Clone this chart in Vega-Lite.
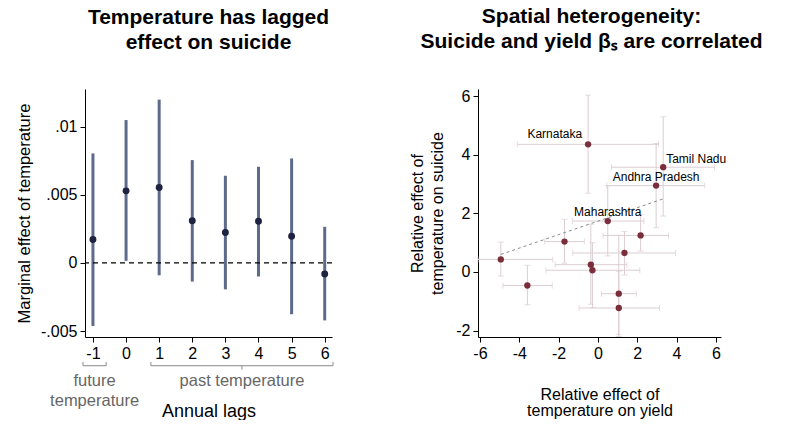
{
  "$schema": "https://vega.github.io/schema/vega-lite/v6.json",
  "description": "Lagged temperature effect on suicide and spatial heterogeneity",
  "background": "white",
  "padding": {"left": 16, "top": 6, "right": 2, "bottom": 0},
  "config": {
    "font": "Liberation Sans",
    "view": {"stroke": null},
    "axis": {
      "grid": false,
      "domainColor": "black",
      "tickColor": "black",
      "labelColor": "black",
      "titleColor": "black",
      "labelFontSize": 16,
      "titleFontSize": 16,
      "titleFontWeight": "normal",
      "tickSize": 5,
      "labelPadding": 3,
      "labelOverlap": false
    },
    "axisX": {"labelOverlap": false},
    "title": {"fontSize": 21, "fontWeight": "bold", "lineHeight": 25, "anchor": "middle", "color": "black"}
  },
  "datasets": {
    "lags": [
      {"lag": -1, "est": 0.00172, "lo": -0.00463, "hi": 0.00804},
      {"lag": 0, "est": 0.00529, "lo": 0.00015, "hi": 0.01049},
      {"lag": 1, "est": 0.00554, "lo": -0.00091, "hi": 0.01199},
      {"lag": 2, "est": 0.00309, "lo": -0.00137, "hi": 0.00755},
      {"lag": 3, "est": 0.00223, "lo": -0.00194, "hi": 0.0064},
      {"lag": 4, "est": 0.00306, "lo": -0.001, "hi": 0.00706},
      {"lag": 5, "est": 0.00196, "lo": -0.00377, "hi": 0.00767},
      {"lag": 6, "est": -0.00081, "lo": -0.00422, "hi": 0.00265}
    ],
    "groups": [
      {"group": "future", "start": -1.3, "end": -0.6, "mid": -0.95, "line1": "future", "line2": "temperature"},
      {"group": "past", "start": 0.75, "end": 6.25, "mid": 3.5, "line1": "past temperature", "line2": ""}
    ],
    "states": [
      {"state": "Karnataka", "yield": -0.5, "ylo": -4.1, "yhi": 3.08, "suicide": 4.36, "slo": 2.69, "shi": 6.04},
      {"state": "Tamil Nadu", "yield": 3.32, "ylo": 0.69, "yhi": 5.93, "suicide": 3.58, "slo": 1.91, "shi": 5.3},
      {"state": "Andhra Pradesh", "yield": 2.96, "ylo": 0.45, "yhi": 5.43, "suicide": 2.95, "slo": 1.51, "shi": 4.39},
      {"state": "Maharashtra", "yield": 0.5, "ylo": -1.3, "yhi": 2.34, "suicide": 1.74, "slo": 0.55, "shi": 2.95},
      {"state": "", "yield": -1.7, "ylo": -2.71, "yhi": -0.69, "suicide": 1.04, "slo": 0.3, "shi": 1.8},
      {"state": "", "yield": -4.94, "ylo": -6.1, "yhi": -2.3, "suicide": 0.43, "slo": -0.14, "shi": 1.02},
      {"state": "", "yield": -3.59, "ylo": -4.83, "yhi": -2.32, "suicide": -0.46, "slo": -1.12, "shi": 0.23},
      {"state": "", "yield": -0.36, "ylo": -2.18, "yhi": 1.47, "suicide": 0.25, "slo": -1.1, "shi": 1.63},
      {"state": "", "yield": -0.28, "ylo": -2.65, "yhi": 2.13, "suicide": 0.06, "slo": -1.22, "shi": 1.0},
      {"state": "", "yield": 1.35, "ylo": -1.28, "yhi": 3.95, "suicide": 0.65, "slo": -0.1, "shi": 1.38},
      {"state": "", "yield": 2.17, "ylo": 0.26, "yhi": 3.59, "suicide": 1.25, "slo": 0.72, "shi": 1.97},
      {"state": "", "yield": 1.06, "ylo": 0.18, "yhi": 1.96, "suicide": -0.74, "slo": -2.13, "shi": 1.25},
      {"state": "", "yield": 1.06, "ylo": -0.96, "yhi": 3.13, "suicide": -1.23, "slo": -2.2, "shi": 0.03}
    ],
    "fit": [
      {"yield": -4.94, "suicide": 0.6},
      {"yield": 3.32, "suicide": 2.5}
    ]
  },
  "hconcat": [
    {
      "spacing": 0,
      "resolve": {"scale": {"x": "independent"}, "axis": {"x": "independent"}},
      "vconcat": [
        {
          "title": {"text": ["Temperature has lagged", "effect on suicide"], "offset": 36},
          "width": 247,
          "height": 248,
          "layer": [
            {
              "data": {"name": "lags"},
              "mark": {"type": "rule", "color": "#5d6a8b", "strokeWidth": 3},
              "encoding": {
                "x": {
                  "field": "lag",
                  "type": "quantitative",
                  "scale": {"domain": [-1.24, 6.22], "nice": false, "zero": false},
                  "axis": {
                    "values": [-1, 0, 1, 2, 3, 4, 5, 6],
                    "tickCount": 8,
                    "labelExpr": "datum.value < 0 ? '-' + abs(datum.value) : '' + datum.value",
                    "labelOverlap": false,
                    "title": null
                  }
                },
                "y": {
                  "field": "lo",
                  "type": "quantitative",
                  "scale": {"domain": [-0.00544, 0.01277], "nice": false},
                  "axis": {
                    "values": [-0.005, 0, 0.005, 0.01],
                    "labelExpr": "datum.value == 0.01 ? '.01' : datum.value == 0.005 ? '.005' : datum.value == 0 ? '0' : '-.005'",
                    "title": "Marginal effect of temperature",
                    "titleFontSize": 16.5,
                    "titlePadding": 8
                  }
                },
                "y2": {"field": "hi"}
              }
            },
            {
              "data": {"values": [{"zero": 0}]},
              "mark": {"type": "rule", "strokeDash": [5, 4], "color": "black", "strokeWidth": 1.3},
              "encoding": {"y": {"field": "zero", "type": "quantitative"}}
            },
            {
              "data": {"name": "lags"},
              "mark": {"type": "circle", "color": "#1e2341", "opacity": 1, "size": 48},
              "encoding": {
                "x": {
                  "field": "lag",
                  "type": "quantitative",
                  "axis": {
                    "values": [-1, 0, 1, 2, 3, 4, 5, 6],
                    "tickCount": 8,
                    "labelExpr": "datum.value < 0 ? '-' + abs(datum.value) : '' + datum.value",
                    "labelOverlap": false,
                    "title": null
                  }
                },
                "y": {"field": "est", "type": "quantitative"}
              }
            }
          ]
        },
        {
          "width": 247,
          "height": 40,
          "data": {"name": "groups"},
          "layer": [
            {
              "mark": {"type": "rule", "color": "#8a8a8a", "strokeWidth": 1},
              "encoding": {
                "x": {
                  "field": "start",
                  "type": "quantitative",
                  "scale": {"domain": [-1.24, 6.22], "nice": false, "zero": false},
                  "axis": {"domain": false, "ticks": false, "labels": false, "title": "Annual lags", "titleFontSize": 18, "titlePadding": 0}
                },
                "x2": {"field": "end"},
                "y": {"datum": 0.093, "type": "quantitative", "scale": {"domain": [0, 1], "reverse": true}, "axis": null}
              }
            },
            {
              "mark": {"type": "rule", "color": "#8a8a8a", "strokeWidth": 1},
              "encoding": {
                "x": {"field": "start", "type": "quantitative"},
                "y": {"datum": 0.093, "type": "quantitative", "axis": null},
                "y2": {"datum": 0.0}
              }
            },
            {
              "mark": {"type": "rule", "color": "#8a8a8a", "strokeWidth": 1},
              "encoding": {
                "x": {"field": "end", "type": "quantitative"},
                "y": {"datum": 0.093, "type": "quantitative", "axis": null},
                "y2": {"datum": 0.0}
              }
            },
            {
              "transform": [{"filter": "datum.group == 'past'"}],
              "mark": {"type": "rule", "color": "#8a8a8a", "strokeWidth": 1},
              "encoding": {
                "x": {"field": "mid", "type": "quantitative"},
                "y": {"datum": 0.093, "type": "quantitative", "axis": null},
                "y2": {"datum": 0.19}
              }
            },
            {
              "mark": {"type": "text", "color": "#666666", "fontSize": 16.5},
              "encoding": {
                "x": {"field": "mid", "type": "quantitative"},
                "y": {"datum": 0.47, "type": "quantitative", "axis": null},
                "text": {"field": "line1"}
              }
            },
            {
              "mark": {"type": "text", "color": "#666666", "fontSize": 16.5},
              "encoding": {
                "x": {"field": "mid", "type": "quantitative"},
                "y": {"datum": 0.97, "type": "quantitative", "axis": null},
                "text": {"field": "line2"}
              }
            }
          ]
        }
      ]
    },
    {
      "title": {"text": ["Spatial heterogeneity:", "Suicide and yield βₛ are correlated"], "offset": 36, "dx": -8},
      "width": 243,
      "height": 248,
      "data": {"name": "states"},
      "layer": [
        {
          "mark": {"type": "rule", "color": "#dccdd1", "strokeWidth": 1},
          "encoding": {
            "x": {
              "field": "ylo",
              "type": "quantitative",
              "scale": {"domain": [-6.1, 6.26], "nice": false, "zero": false},
              "axis": {
                "values": [-6, -4, -2, 0, 2, 4, 6],
                "labelExpr": "datum.value < 0 ? '-' + abs(datum.value) : '' + datum.value",
                "title": ["Relative effect of", "temperature on yield"],
                "titlePadding": 25,
                "titleLineHeight": 16
              }
            },
            "x2": {"field": "yhi"},
            "y": {
              "field": "suicide",
              "type": "quantitative",
              "scale": {"domain": [-2.22, 6.25], "nice": false, "zero": false},
              "axis": {
                "values": [-2, 0, 2, 4, 6],
                "labelExpr": "datum.value < 0 ? '-' + abs(datum.value) : '' + datum.value",
                "title": ["Relative effect of", "temperature on suicide"],
                "titlePadding": 10,
                "titleLineHeight": 20
              }
            }
          }
        },
        {
          "mark": {"type": "rule", "color": "#dccdd1", "strokeWidth": 1},
          "encoding": {
            "x": {"field": "yield", "type": "quantitative"},
            "y": {"field": "slo", "type": "quantitative"},
            "y2": {"field": "shi"}
          }
        },
        {
          "mark": {"type": "tick", "orient": "vertical", "size": 6, "thickness": 1, "color": "#dccdd1"},
          "encoding": {
            "x": {"field": "ylo", "type": "quantitative"},
            "y": {"field": "suicide", "type": "quantitative"}
          }
        },
        {
          "mark": {"type": "tick", "orient": "vertical", "size": 6, "thickness": 1, "color": "#dccdd1"},
          "encoding": {
            "x": {"field": "yhi", "type": "quantitative"},
            "y": {"field": "suicide", "type": "quantitative"}
          }
        },
        {
          "mark": {"type": "tick", "orient": "horizontal", "size": 6, "thickness": 1, "color": "#dccdd1"},
          "encoding": {
            "x": {"field": "yield", "type": "quantitative"},
            "y": {"field": "slo", "type": "quantitative"}
          }
        },
        {
          "mark": {"type": "tick", "orient": "horizontal", "size": 6, "thickness": 1, "color": "#dccdd1"},
          "encoding": {
            "x": {"field": "yield", "type": "quantitative"},
            "y": {"field": "shi", "type": "quantitative"}
          }
        },
        {
          "data": {"name": "fit"},
          "mark": {"type": "line", "color": "#8c8c8c", "strokeDash": [3, 3], "strokeWidth": 1},
          "encoding": {
            "x": {"field": "yield", "type": "quantitative"},
            "y": {"field": "suicide", "type": "quantitative"}
          }
        },
        {
          "mark": {"type": "circle", "color": "#7a2d3b", "opacity": 1, "size": 40},
          "encoding": {
            "x": {"field": "yield", "type": "quantitative"},
            "y": {"field": "suicide", "type": "quantitative"}
          }
        },
        {
          "transform": [{"filter": "datum.state == 'Karnataka'"}],
          "mark": {"type": "text", "align": "right", "dx": -6, "dy": -10, "fontSize": 12, "color": "black"},
          "encoding": {
            "x": {"field": "yield", "type": "quantitative"},
            "y": {"field": "suicide", "type": "quantitative"},
            "text": {"field": "state"}
          }
        },
        {
          "transform": [{"filter": "datum.state == 'Tamil Nadu'"}],
          "mark": {"type": "text", "align": "left", "dx": 3, "dy": -8, "fontSize": 12, "color": "black"},
          "encoding": {
            "x": {"field": "yield", "type": "quantitative"},
            "y": {"field": "suicide", "type": "quantitative"},
            "text": {"field": "state"}
          }
        },
        {
          "transform": [{"filter": "datum.state == 'Andhra Pradesh' || datum.state == 'Maharashtra'"}],
          "mark": {"type": "text", "align": "center", "dy": -9, "fontSize": 12, "color": "black"},
          "encoding": {
            "x": {"field": "yield", "type": "quantitative"},
            "y": {"field": "suicide", "type": "quantitative"},
            "text": {"field": "state"}
          }
        }
      ]
    }
  ],
  "spacing": 75
}
